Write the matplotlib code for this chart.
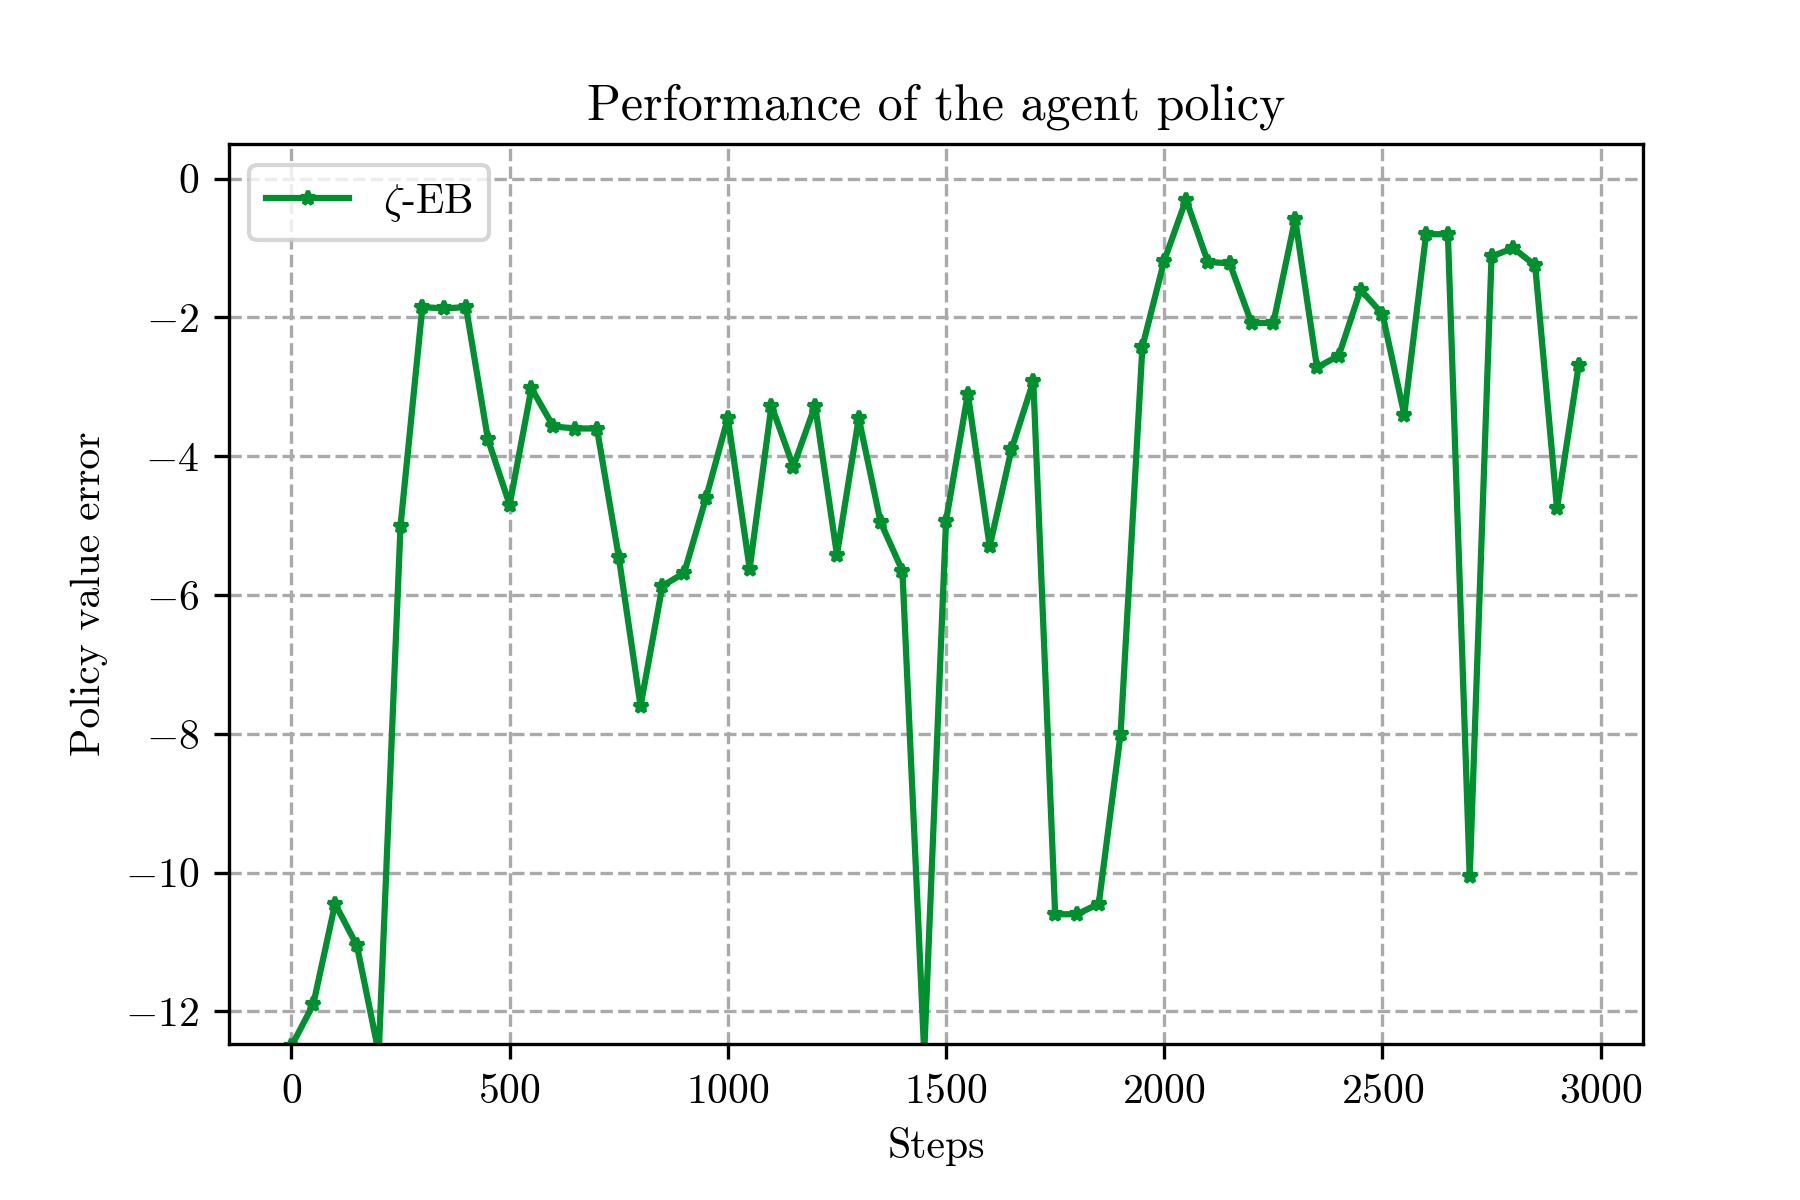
import matplotlib
matplotlib.use("Agg")
import matplotlib.pyplot as plt

plt.rcParams['font.family'] = 'serif'
plt.rcParams['font.serif'] = ['cmr10', 'DejaVu Serif']
plt.rcParams['mathtext.fontset'] = 'cm'
plt.rcParams['axes.formatter.use_mathtext'] = True

steps = list(range(0, 3000, 50))
errors = [-12.5, -11.9, -10.45, -11.05, -12.6, -5.0, -1.85, -1.87, -1.85, -3.75,
          -4.7, -3.02, -3.57, -3.6, -3.6, -5.45, -7.6, -5.87, -5.68, -4.6,
          -3.45, -5.62, -3.27, -4.15, -3.27, -5.42, -3.45, -4.95, -5.65, -12.6,
          -4.93, -3.1, -5.3, -3.9, -2.92, -10.6, -10.6, -10.45, -8.0, -2.42,
          -1.18, -0.3, -1.2, -1.22, -2.08, -2.08, -0.58, -2.72, -2.55, -1.6,
          -1.95, -3.4, -0.8, -0.8, -10.05, -1.12, -1.0, -1.25, -4.75, -2.68]

fig, ax = plt.subplots(figsize=(6, 4), dpi=300)
ax.plot(steps, errors, color='#009030', lw=1.5, marker='*', ms=3.5, label=r'$\zeta$-EB')
ax.set_xlim(-144, 3098)
ax.set_ylim(-12.47, 0.5)
ax.grid(True, ls='--', color='#aaaaaa', lw=0.8)
ax.set_title('Performance of the agent policy')
ax.set_xlabel('Steps')
ax.set_ylabel('Policy value error')
ax.legend(loc='upper left')
fig.subplots_adjust(left=0.127, right=0.913, top=0.88, bottom=0.13)
fig.savefig('out.png')
